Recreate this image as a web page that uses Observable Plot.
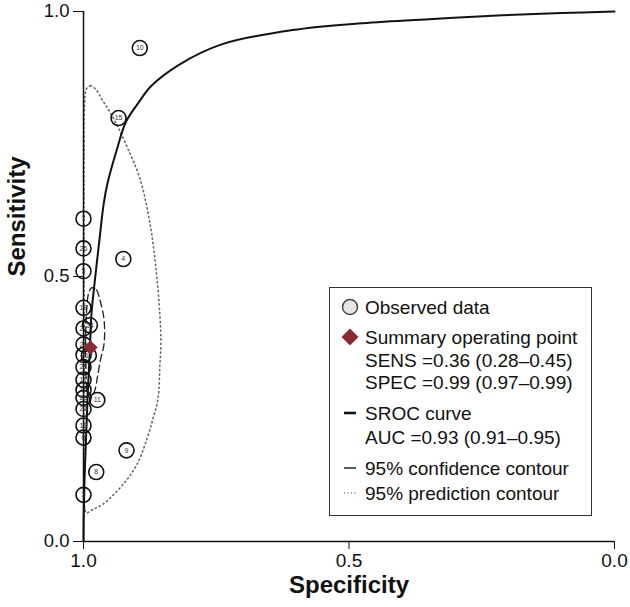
<!DOCTYPE html>
<html><head><meta charset="utf-8">
<script src="https://cdn.jsdelivr.net/npm/d3@7"></script>
<script src="https://cdn.jsdelivr.net/npm/@observablehq/plot@0.6"></script>
<style>
body{margin:0;background:#fff;font-family:"Liberation Sans",Arial,sans-serif;}
#wrap{position:relative;width:630px;height:607px;}
#legend{position:absolute;left:329px;top:287px;width:261px;height:227px;border:1.5px solid #333;background:#fff;}
</style></head><body><div id="wrap"></div>
<script>
// Observed studies
const studyLabel = ["10","15","7","26","5","4","18","14","27","12","20","2","23","17","16","25","11","21","19","6","9","8","3"];
const studySpec  = [0.894,0.934,1.0,1.0,1.0,0.925,1.0,0.988,1.0,0.990,1.0,1.0,1.0,1.0,1.0,1.0,0.974,1.0,1.0,1.0,0.919,0.976,1.0];
const studySens  = [0.931,0.799,0.609,0.553,0.510,0.533,0.441,0.408,0.402,0.351,0.372,0.352,0.329,0.305,0.286,0.271,0.267,0.250,0.219,0.196,0.172,0.131,0.088];

// Summary operating point
const summarySpec = [0.987];
const summarySens = [0.366];

// SROC curve
const srocSpec = [1.0,0.9995,0.998,0.995,0.992,0.988,0.985,0.980,0.971,0.962,0.955,0.937,0.920,0.895,0.873,0.821,0.740,0.607,0.475,0.342,0.211,0.100,0.0];
const srocSens = [0.0,0.05,0.12,0.20,0.28,0.36,0.43,0.48,0.56,0.637,0.675,0.74,0.792,0.830,0.859,0.899,0.938,0.965,0.978,0.986,0.993,0.997,1.0];

// 95% confidence contour
const confSpec = [0.985,0.9757,0.9682,0.9626,0.9602,0.9617,0.9682,0.9738,0.9785,0.9869,0.9925,0.9953,0.9963,0.9957,0.9938,0.9907];
const confSens = [0.4785,0.4748,0.4523,0.428,0.400,0.370,0.342,0.310,0.286,0.271,0.2785,0.310,0.357,0.404,0.441,0.467];

// 95% prediction contour
const predSpec = [0.9944,0.9869,0.9776,0.9626,0.9495,0.9346,0.9159,0.8935,0.8748,0.8636,0.8561,0.8542,0.8561,0.8598,0.8692,0.8804,0.8991,0.9252,0.9626,0.9832,0.9944,0.9981,0.999,0.999,0.999,0.999,0.998];
const predSens = [0.854,0.860,0.854,0.830,0.809,0.781,0.740,0.684,0.600,0.516,0.426,0.376,0.333,0.269,0.232,0.194,0.146,0.108,0.071,0.060,0.054,0.067,0.170,0.357,0.544,0.731,0.824];

const xTicks = [1.0, 0.5, 0.0];
const yTicks = [0.0, 0.5, 1.0];

const legendItems = ["Observed data","Summary operating point","SENS =0.36 (0.28–0.45)","SPEC =0.99 (0.97–0.99)","SROC curve","AUC =0.93 (0.91–0.95)","95% confidence contour","95% prediction contour"];

const studies = studyLabel.map((l,i)=>({label:l, spec:studySpec[i], sens:studySens[i]}));
const summary = summarySpec.map((s,i)=>({spec:s, sens:summarySens[i]}));
const sroc = srocSpec.map((s,i)=>({spec:s, sens:srocSens[i]}));
const conf = confSpec.map((s,i)=>({spec:s, sens:confSens[i]}));
const pred = predSpec.map((s,i)=>({spec:s, sens:predSens[i]}));

const font = '"Liberation Sans", Arial, sans-serif';
const chart = Plot.plot({
  width:630, height:607, marginLeft:83, marginRight:16, marginTop:11, marginBottom:66,
  style:{fontFamily:font, background:"#fff", color:"#111"},
  x:{domain:[1,0]}, y:{domain:[0,1]},
  marks:[
    Plot.line(pred, {x:"spec", y:"sens", curve:"catmull-rom-closed", stroke:"#666", strokeWidth:1.6, strokeDasharray:"1.2,3.2", strokeLinecap:"round"}),
    Plot.line(conf, {x:"spec", y:"sens", curve:"catmull-rom-closed", stroke:"#222", strokeWidth:1.3, strokeDasharray:"7,4"}),
    Plot.ruleX([1], {stroke:"#111", strokeWidth:1.5}),
    Plot.ruleY([0], {stroke:"#111", strokeWidth:1.5}),
    Plot.line(sroc, {x:"spec", y:"sens", curve:"catmull-rom", stroke:"#111", strokeWidth:2}),
    Plot.dot(studies, {x:"spec", y:"sens", r:7.5, stroke:"#111", strokeWidth:1.6, fill:"none"}),
    Plot.text(studies, {x:"spec", y:"sens", text:"label", fontSize:7, fill:"#333"}),
    Plot.dot(summary, {x:"spec", y:"sens", symbol:"diamond2", r:6.5, fill:"#8b2a33"}),
    Plot.axisX({ticks:xTicks, tickFormat:d=>d.toFixed(1), tickSize:8, tickPadding:4, fontSize:19, label:null}),
    Plot.axisY({ticks:yTicks, tickFormat:d=>d.toFixed(1), tickSize:10, tickPadding:4, fontSize:18.5, label:null}),
    Plot.text(["Specificity"], {text:d=>d, frameAnchor:"bottom", dy:51, fontSize:24, fontWeight:"bold", fill:"#111"}),
    Plot.text(["Sensitivity"], {text:d=>d, frameAnchor:"left", dx:-66, rotate:-90, fontSize:24, fontWeight:"bold", fill:"#111"})
  ]
});
const wrap = document.getElementById("wrap");
wrap.appendChild(chart);

// Legend
const lg = document.createElement("div");
lg.id = "legend";
const ns = "http://www.w3.org/2000/svg";
const svg = document.createElementNS(ns, "svg");
svg.setAttribute("width", 261); svg.setAttribute("height", 227);
svg.style.fontFamily = font;
const ys = [19,49,72,94,125,149,180,205];
function el(tag, attrs){ const e=document.createElementNS(ns,tag); for(const k in attrs) e.setAttribute(k, attrs[k]); svg.appendChild(e); return e; }
el("circle",{cx:20,cy:ys[0],r:7.5,fill:"#e6e6e6",stroke:"#444","stroke-width":1.5});
el("path",{d:`M20,${ys[1]-8.5}L28.5,${ys[1]}L20,${ys[1]+8.5}L11.5,${ys[1]}Z`,fill:"#8b2a33"});
el("line",{x1:14,x2:26,y1:ys[4],y2:ys[4],stroke:"#111","stroke-width":2.6});
el("line",{x1:14,x2:26,y1:ys[6],y2:ys[6],stroke:"#222","stroke-width":1.5});
el("line",{x1:14,x2:26,y1:ys[7],y2:ys[7],stroke:"#777","stroke-width":1.3,"stroke-dasharray":"1,2.5"});
legendItems.forEach((t,i)=>{
  const tx = el("text",{x:35,y:ys[i],"dominant-baseline":"central","font-size":19,fill:"#111"});
  tx.textContent = t;
});
lg.appendChild(svg);
wrap.appendChild(lg);
</script></body></html>
